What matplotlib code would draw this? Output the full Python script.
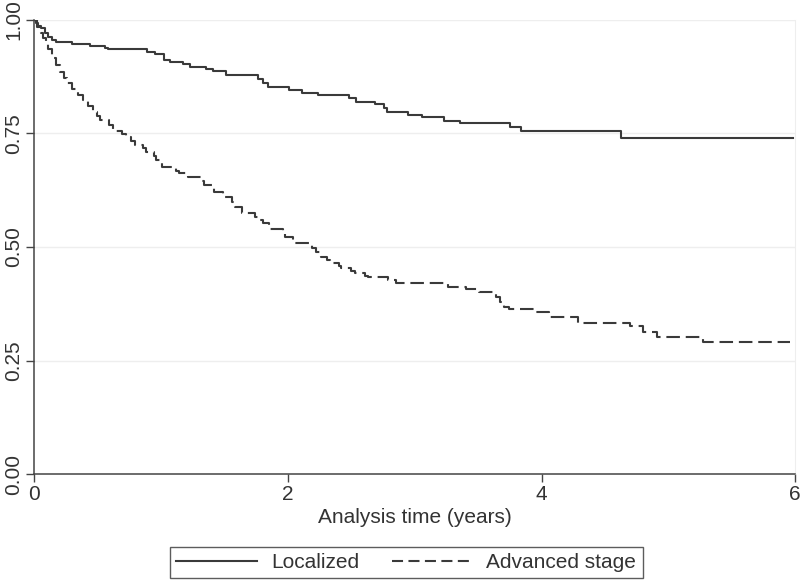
import matplotlib.pyplot as plt
from matplotlib.lines import Line2D

# Kaplan-Meier estimates
loc_time = [0, 0.01, 0.03, 0.05, 0.08, 0.11, 0.14, 0.17, 0.30, 0.44, 0.56, 0.58,
            0.89, 0.95, 1.02, 1.07, 1.17, 1.23, 1.35, 1.41, 1.51, 1.76, 1.80, 1.84,
            2.01, 2.11, 2.24, 2.48, 2.54, 2.69, 2.76, 2.78, 2.95, 3.06, 3.23, 3.36,
            3.75, 3.84, 4.63, 5.98]
loc_surv = [1.0, 0.993, 0.987, 0.982, 0.971, 0.963, 0.956, 0.951, 0.946, 0.943, 0.937, 0.935,
            0.930, 0.925, 0.912, 0.908, 0.902, 0.897, 0.892, 0.888, 0.879, 0.870, 0.861, 0.853,
            0.846, 0.838, 0.835, 0.827, 0.819, 0.814, 0.805, 0.797, 0.791, 0.786, 0.778, 0.772,
            0.765, 0.755, 0.741, 0.741]

adv_time = [0, 0.02, 0.05, 0.07, 0.09, 0.11, 0.14, 0.17, 0.205, 0.23, 0.26, 0.30,
            0.34, 0.38, 0.42, 0.46, 0.49, 0.52, 0.59, 0.62, 0.69, 0.72, 0.76, 0.79,
            0.86, 0.88, 0.94, 0.96, 1.01, 1.12, 1.14, 1.21, 1.32, 1.34, 1.40, 1.42,
            1.49, 1.56, 1.58, 1.64, 1.74, 1.77, 1.80, 1.85, 1.96, 1.98, 2.04, 2.19,
            2.22, 2.26, 2.31, 2.33, 2.40, 2.42, 2.50, 2.53, 2.61, 2.63, 2.79, 2.85,
            3.26, 3.40, 3.51, 3.64, 3.67, 3.70, 3.74, 3.94, 4.06, 4.29, 4.70, 4.80,
            4.91, 5.27, 5.96]
adv_surv = [1.0, 0.985, 0.972, 0.960, 0.949, 0.935, 0.915, 0.900, 0.886, 0.872, 0.860, 0.848,
            0.835, 0.824, 0.810, 0.798, 0.788, 0.780, 0.768, 0.755, 0.749, 0.743, 0.733, 0.725,
            0.717, 0.710, 0.700, 0.692, 0.677, 0.668, 0.662, 0.655, 0.646, 0.637, 0.630, 0.622,
            0.611, 0.600, 0.589, 0.574, 0.565, 0.559, 0.552, 0.540, 0.530, 0.523, 0.508, 0.497,
            0.488, 0.479, 0.472, 0.464, 0.458, 0.453, 0.447, 0.442, 0.437, 0.433, 0.427, 0.421,
            0.411, 0.407, 0.401, 0.390, 0.378, 0.369, 0.363, 0.356, 0.345, 0.333, 0.327, 0.312,
            0.302, 0.291, 0.291]

labels = ["Localized", "Advanced stage"]
x_ticks = [0, 2, 4, 6]
y_ticks = [0, 0.25, 0.5, 0.75, 1.0]

plt.rcParams['font.family'] = ['Liberation Sans', 'DejaVu Sans']
line_col = "#3a3a3a"
text_col = "#333333"
fs = 15

fig = plt.figure(figsize=(8, 5.84), dpi=100)
ax = fig.add_axes([0.043, 0.188, 0.951, 0.778])

ax.plot(loc_time, loc_surv, drawstyle="steps-post", color=line_col, lw=1.5)
ax.plot(adv_time, adv_surv, drawstyle="steps-post", color=line_col, lw=1.5,
        linestyle=(0, (6.5, 2.8)))

ax.set_xlim(0, 6)
ax.set_ylim(0, 1)
ax.set_xticks(x_ticks)
ax.set_yticks(y_ticks)
ax.set_yticklabels(["%.2f" % v for v in y_ticks], rotation=90, va="center")

for v in y_ticks[1:]:
    ax.axhline(v, color="#eeeeee", lw=1, zorder=0)

ax.spines["top"].set_visible(False)
ax.spines["right"].set_color("#eeeeee")
ax.spines["left"].set_color("#444444")
ax.spines["bottom"].set_color("#444444")
ax.spines["left"].set_linewidth(1.1)
ax.spines["bottom"].set_linewidth(1.1)
ax.tick_params(axis="both", direction="out", length=6, width=1, color="#444444",
               labelsize=fs, labelcolor=text_col, pad=2)

ax.set_xlabel("Analysis time (years)", fontsize=fs, color=text_col, labelpad=3)

# legend samples: the dashed one uses shorter dashes, like the original
handles = [Line2D([], [], color=line_col, lw=1.5),
           Line2D([], [], color=line_col, lw=1.5, linestyle=(0, (5.3, 2.6)))]
leg = fig.legend(handles, labels, loc="center", bbox_to_anchor=(0.508, 0.0368), ncol=2,
                 fontsize=fs, frameon=True, fancybox=False, edgecolor="#333333",
                 handlelength=3.85, handletextpad=0.7, columnspacing=1.55,
                 borderpad=0.3, labelcolor=text_col)
leg.get_frame().set_linewidth(1.0)

fig.savefig("out.png", dpi=100)
